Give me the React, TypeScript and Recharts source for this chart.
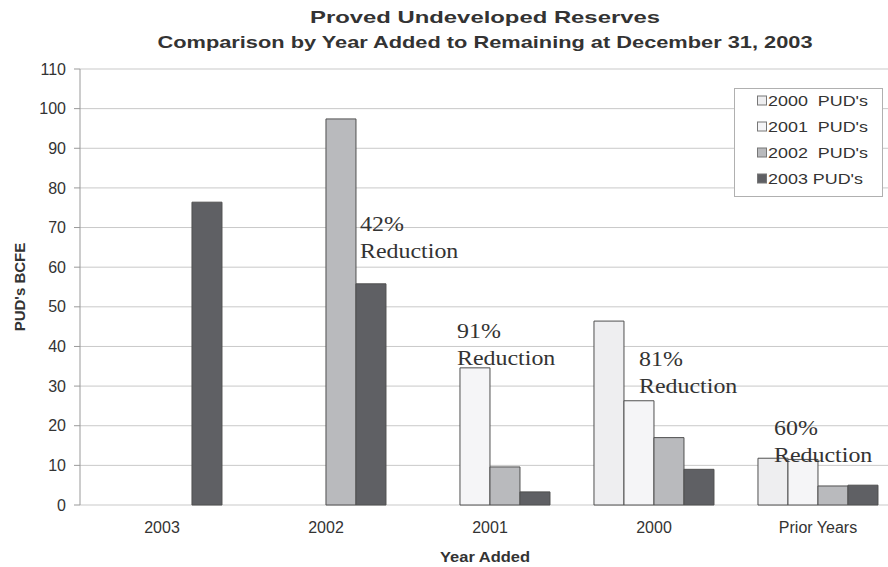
import React from 'react';
import { BarChart, Bar, XAxis, YAxis, CartesianGrid, Legend, ReferenceDot } from 'recharts';

// ---- data ----
const categories = ['2003', '2002', '2001', '2000', 'Prior Years'];
const pud2000 = [null, null, null, 46.4, 11.8];
const pud2001 = [null, null, 34.6, 26.3, 11.5];
const pud2002 = [null, 97.4, 9.6, 17.0, 4.8];
const pud2003 = [76.4, 55.8, 3.3, 9.0, 5.0];
const seriesKeys = ['p2000', 'p2001', 'p2002', 'p2003'];
const seriesNames = ["2000  PUD's", "2001  PUD's", "2002  PUD's", "2003 PUD's"];
const yTicks = [0, 10, 20, 30, 40, 50, 60, 70, 80, 90, 100, 110];
const boundaryTicks = [0, 1, 2, 3, 4, 5];

const annCategories = ['2002', '2001', '2000', 'Prior Years'];
const annPercents = ['42%', '91%', '81%', '60%'];
const annLevels = [69.1, 42.1, 35.1, 17.7];
const annWord = 'Reduction';

const titleLine1 = 'Proved Undeveloped Reserves';
const titleLine2 = 'Comparison by Year Added to Remaining at December 31, 2003';
const xTitle = 'Year Added';
const yTitle = "PUD's BCFE";

// ---- styles ----
const fills = ['#eeeef0', '#f5f5f7', '#b9babd', '#5f6064'];
const barStroke = '#505050';
const annDx = [34, -33, -15, -44];
const legendTextLen = [100, 100, 100, 95];
const sans = "'Liberation Sans', Arial, Helvetica, sans-serif";
const serif = "'Liberation Serif', 'Times New Roman', serif";

const data = categories.map((c, i) => ({
  cat: c,
  p2000: pud2000[i],
  p2001: pud2001[i],
  p2002: pud2002[i],
  p2003: pud2003[i],
}));

const LegendBox = () => (
  <svg width={149} height={109} style={{ display: 'block' }}>
    <rect x={0.5} y={0.5} width={148} height={108} fill="#fff" stroke="#b0b0b0" />
    {seriesNames.map((n, i) => {
      const cy = 12.5 + 26 * i;
      return (
        <g key={n}>
          <rect x={23.5} y={cy - 4.5} width={9} height={9} fill={fills[i]} stroke="#777" />
          <text
            x={34}
            y={cy + 5.5}
            fontFamily={sans}
            fontSize={15}
            fill="#333"
            textLength={legendTextLen[i]}
            lengthAdjust="spacingAndGlyphs"
            style={{ whiteSpace: 'pre' }}
          >
            {n}
          </text>
        </g>
      );
    })}
  </svg>
);

const makeAnn = (i: number) => (p: any) => {
  const { cx, cy } = p;
  if (cx == null || cy == null) return <g />;
  return (
    <g transform={`translate(${cx + annDx[i]},${cy}) scale(1.14,1)`}>
      <text x={0} y={0} fontFamily={serif} fontSize={21} fill="#333">
        {annPercents[i]}
      </text>
      <text x={0} y={27} fontFamily={serif} fontSize={21} fill="#333">
        {annWord}
      </text>
    </g>
  );
};

export default function App() {
  return (
    <div
      style={{
        position: 'absolute',
        left: 0,
        top: 0,
        width: 888,
        height: 567,
        overflow: 'hidden',
        background: '#fff',
      }}
    >
      <BarChart
        width={904}
        height={567}
        data={data}
        margin={{ top: 69, right: 4, bottom: 32, left: 20 }}
        barCategoryGap="13.4%"
        barGap={0}
      >
        <CartesianGrid vertical={false} stroke="#c9c9c9" />
        <XAxis
          xAxisId="b"
          type="number"
          domain={[0, 5]}
          ticks={boundaryTicks}
          allowDataOverflow
          height={1}
          tick={false}
          tickSize={6}
          axisLine={false}
          tickLine={{ stroke: '#999' }}
        />
        <XAxis
          dataKey="cat"
          xAxisId={0}
          height={29}
          tickSize={0}
          tickMargin={17}
          tickLine={false}
          axisLine={false}
          interval={0}
          tick={{ fontSize: 16, fill: '#333', fontFamily: sans }}
        />
        <YAxis
          width={60}
          domain={[0, 110]}
          ticks={yTicks}
          interval={0}
          tickSize={6}
          tickMargin={8}
          axisLine={{ stroke: '#999' }}
          tickLine={{ stroke: '#999' }}
          tick={{ fontSize: 16, fill: '#333', fontFamily: sans }}
        />
        <Legend
          layout="vertical"
          align="center"
          verticalAlign="middle"
          content={() => <LegendBox />}
          wrapperStyle={{ position: 'absolute', left: 734, top: 88, width: 149, height: 109 }}
        />
        {seriesKeys.map((k, i) => (
          <Bar
            key={k}
            dataKey={k}
            name={seriesNames[i]}
            fill={fills[i]}
            stroke={barStroke}
            strokeWidth={1}
            isAnimationActive={false}
          />
        ))}
        {annCategories.map((c, i) => (
          <ReferenceDot key={c} x={c} y={annLevels[i]} r={0} shape={makeAnn(i)} />
        ))}
      </BarChart>
      <svg
        width={888}
        height={567}
        style={{ position: 'absolute', left: 0, top: 0, pointerEvents: 'none' }}
      >
        <text x={485} y={23} textAnchor="middle" fontFamily={sans} fontWeight="bold" fontSize={17} fill="#333" textLength={350} lengthAdjust="spacingAndGlyphs">
          {titleLine1}
        </text>
        <text x={485} y={48} textAnchor="middle" fontFamily={sans} fontWeight="bold" fontSize={17} fill="#333" textLength={655} lengthAdjust="spacingAndGlyphs">
          {titleLine2}
        </text>
        <text x={485} y={562} textAnchor="middle" fontFamily={sans} fontWeight="bold" fontSize={15} fill="#333" textLength={90} lengthAdjust="spacingAndGlyphs">
          {xTitle}
        </text>
        <text transform="translate(24.5,287) rotate(-90)" textAnchor="middle" fontFamily={sans} fontWeight="bold" fontSize={15} fill="#333">
          {yTitle}
        </text>
      </svg>
    </div>
  );
}
